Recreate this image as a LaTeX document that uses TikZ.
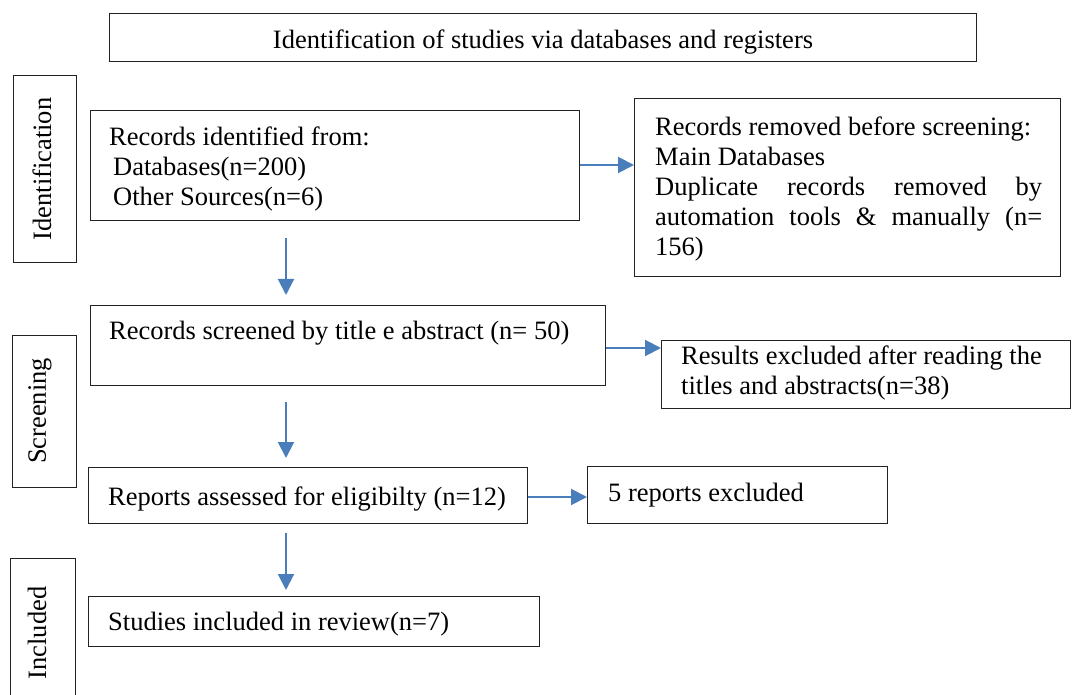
\documentclass[tikz,border=0pt]{standalone}
\usepackage{fontspec}
\setmainfont{Liberation Serif}
\usetikzlibrary{arrows.meta}
\definecolor{arrowblue}{HTML}{4A7EBB}
\definecolor{boxline}{HTML}{222222}
\begin{document}
\begin{tikzpicture}[x=1pt,y=-1pt,
  box/.style={draw=boxline,line width=1.4pt,fill=none,anchor=north west,inner sep=0pt},
  txt/.style={anchor=base west,inner sep=0pt,font=\fontsize{26.5}{30}\selectfont,align=left},
  mtxt/.style={anchor=north west,inner sep=0pt,font=\fontsize{26.5}{30}\selectfont,align=left},
  side/.style={inner sep=0pt,font=\fontsize{26.5}{30}\selectfont,rotate=90},
  arr/.style={draw=arrowblue,line width=2pt,-{Triangle[length=16pt,width=16pt]}}]
\clip (0,0) rectangle (1072,695);
\fill[white] (0,0) rectangle (1072,695);
% boxes
\node[box,minimum width=867,minimum height=48] (title) at (109,13) {};
\node[box,minimum width=63,minimum height=187] (sid) at (13,75) {};
\node[box,minimum width=64,minimum height=152] (sscr) at (12,335) {};
\node[box,minimum width=65,minimum height=150] (sinc) at (10,558) {};
\node[box,minimum width=489,minimum height=110] (b1) at (90,110) {};
\node[box,minimum width=426,minimum height=178] (b1r) at (634,98) {};
\node[box,minimum width=515,minimum height=80] (b2) at (90,305) {};
\node[box,minimum width=409,minimum height=68] (b2r) at (661,340) {};
\node[box,minimum width=439,minimum height=56] (b3) at (88,467) {};
\node[box,minimum width=300,minimum height=57] (b3r) at (587,466) {};
\node[box,minimum width=451,minimum height=50] (b4) at (88,596) {};
% texts
\node[inner sep=0pt,font=\fontsize{26.5}{30}\selectfont,anchor=base] (ttitle) at (543,49) {Identification of studies via databases and registers};
\node[side] (tsid) at (42,169) {Identification};
\node[side] (tsscr) at (40,411) {Screening};
\node[side] (tsinc) at (37,633) {Included};
\node[mtxt] (t1) at (109,124) {\strut Records identified from:\\\hspace*{4pt}Databases(n=200)\\\hspace*{4pt}Other Sources(n=6)};
\node[mtxt,text width=387,align=justify] (t1r) at (655,114) {\strut Records removed before screening:\\Main Databases\\Duplicate records removed by\linebreak automation tools \& manually (n=\linebreak 156)};
\node[txt] (t2) at (109,340) {Records screened by title e abstract (n= 50)};
\node[mtxt] (t2r) at (681,343) {\strut Results excluded after reading the\\titles and abstracts(n=38)};
\node[txt] (t3) at (108,505) {Reports assessed for eligibilty (n=12)};
\node[txt] (t3r) at (608,501) {5 reports excluded};
\node[txt] (t4) at (108,630) {Studies included in review(n=7)};
% arrows
\coordinate (ax) at (286,0);
\draw[arr,shorten <=17pt,shorten >=10pt] (b1.south -| ax) -- (b2.north -| ax);
\draw[arr,shorten <=16pt,shorten >=9pt] (b2.south -| ax) -- (b3.north -| ax);
\draw[arr,shorten <=9pt,shorten >=6pt] (b3.south -| ax) -- (b4.north -| ax);
\coordinate (r1) at (0,165);
\coordinate (r2) at (0,348);
\coordinate (r3) at (0,497);
\draw[arr] (b1.east |- r1) -- (b1r.west |- r1);
\draw[arr] (b2.east |- r2) -- (b2r.west |- r2);
\draw[arr] (b3.east |- r3) -- (b3r.west |- r3);
\end{tikzpicture}
\end{document}
